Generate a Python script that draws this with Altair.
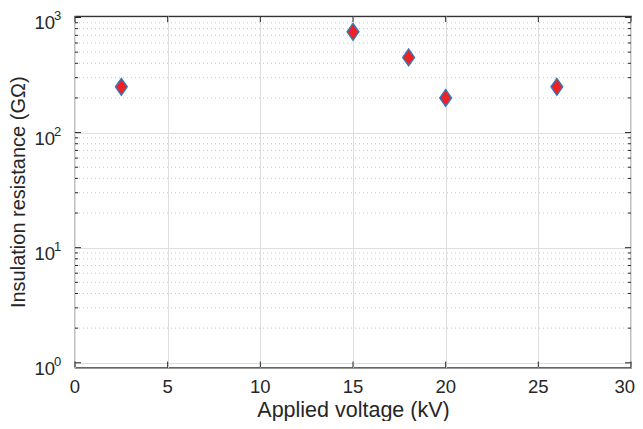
import altair as alt
import pandas as pd

voltage = [2.5, 15, 18, 20, 26]
resistance = [250, 750, 450, 200, 250]
x_ticks = [0, 5, 10, 15, 20, 25, 30]
x_labels = ["0", "5", "10", "15", "20", "25", "30"]
y_decades = [1, 10, 100, 1000]
y_exponents = ["0", "1", "2", "3"]
y_minor = [2, 3, 4, 5, 6, 7, 8, 9,
           20, 30, 40, 50, 60, 70, 80, 90,
           200, 300, 400, 500, 600, 700, 800, 900]

W, H = 556, 351.5
FONT = "Liberation Sans"
TXT = "#262626"

xs = alt.Scale(domain=[0, 30], nice=False, zero=False)
ys = alt.Scale(type="log", domain=[0.91, 1030], nice=False)

XAX = alt.Axis(
    values=x_ticks, grid=True, gridColor="#dedede", gridWidth=1,
    ticks=False, domain=False, labels=False,
    title="Applied voltage (kV)", titleFont=FONT, titleFontSize=21.5,
    titleFontWeight="normal", titleColor=TXT, titlePadding=32)
YAX = alt.Axis(
    values=y_decades, grid=True, gridColor="#dedede", gridWidth=1,
    ticks=False, domain=False, labels=False,
    title="Insulation resistance (GΩ)", titleFont=FONT, titleFontSize=20,
    titleFontWeight="normal", titleColor=TXT, titlePadding=47)

pts = pd.DataFrame({"v": voltage, "r": resistance})
xt = pd.DataFrame({"v": x_ticks, "t": x_labels})
yd = pd.DataFrame({"r": y_decades, "e": y_exponents})
ym = pd.DataFrame({"r": y_minor})


def X():
    return alt.X("v:Q", scale=xs, axis=XAX)


def Y():
    return alt.Y("r:Q", scale=ys, axis=YAX)


minor_grid = alt.Chart(ym).mark_rule(color="#b8b8b8", strokeDash=[1, 3], strokeWidth=0.8).encode(
    y=Y(), x=alt.value(0), x2=alt.value(W))

points = alt.Chart(pts).mark_point(
    shape="M0,-1L0.7,0L0,1L-0.7,0Z", size=289, filled=True,
    fill="#ec2227", stroke="#2b7cc0", strokeWidth=1.3, opacity=1
).encode(x=X(), y=Y())

tick_col = "#262626"
xt_bot = alt.Chart(xt).mark_rule(color=tick_col, strokeWidth=1).encode(
    x=X(), y=alt.value(H), y2=alt.value(H - 6))
xt_top = alt.Chart(xt).mark_rule(color=tick_col, strokeWidth=1).encode(
    x=X(), y=alt.value(0), y2=alt.value(6))
yt_left = alt.Chart(yd).mark_rule(color=tick_col, strokeWidth=1).encode(
    y=Y(), x=alt.value(0), x2=alt.value(6))
yt_right = alt.Chart(yd).mark_rule(color=tick_col, strokeWidth=1).encode(
    y=Y(), x=alt.value(W), x2=alt.value(W - 6))
ym_left = alt.Chart(ym).mark_rule(color=tick_col, strokeWidth=1).encode(
    y=Y(), x=alt.value(0), x2=alt.value(3))
ym_right = alt.Chart(ym).mark_rule(color=tick_col, strokeWidth=1).encode(
    y=Y(), x=alt.value(W), x2=alt.value(W - 3))

# x tick labels (last one kept inside the page)
xlab_main = alt.Chart(xt).transform_filter("datum.v < 30").mark_text(
    align="center", baseline="middle", dy=19.5, fontSize=18.5,
    font=FONT, color=TXT).encode(x=X(), y=alt.value(H), text="t:N")
xlab_last = alt.Chart(xt).transform_filter("datum.v >= 30").mark_text(
    align="right", baseline="middle", dy=19.5, dx=4, fontSize=18.5,
    font=FONT, color=TXT).encode(x=X(), y=alt.value(H), text="t:N")

lab_base = alt.Chart(yd).mark_text(
    text="10", align="right", baseline="middle", dy=6, fontSize=18.5,
    font=FONT, color=TXT).encode(y=Y(), x=alt.value(-20))
lab_exp = alt.Chart(yd).mark_text(
    align="left", baseline="middle", dy=-1, fontSize=13,
    font=FONT, color=TXT).encode(y=Y(), x=alt.value(-21), text="e:N")

chart = alt.layer(
    minor_grid, points, xt_bot, xt_top, yt_left, yt_right, ym_left, ym_right,
    xlab_main, xlab_last, lab_base, lab_exp
).properties(
    width=W, height=H,
    autosize=alt.AutoSizeParams(type="none"),
    padding={"left": 67, "top": 8, "right": 4, "bottom": 53.5},
    background="white"
).configure_view(stroke="#333333", strokeWidth=1.2)

chart.save("out.html", embed_options={"renderer": "svg", "actions": False})
